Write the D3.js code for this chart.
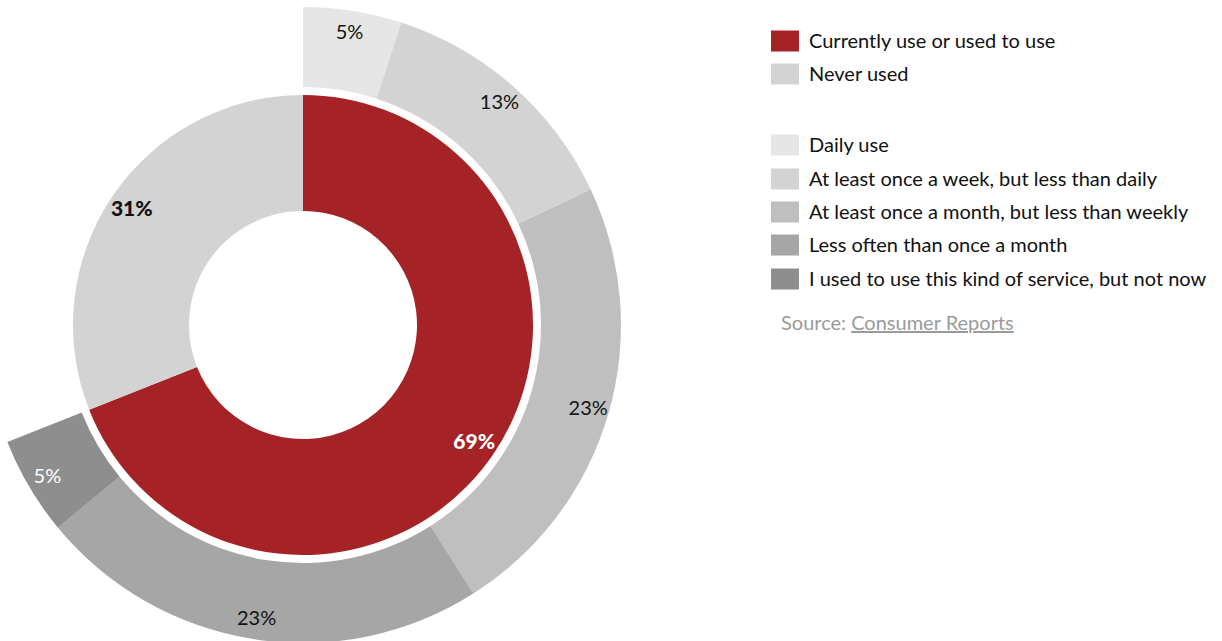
<!DOCTYPE html>
<html>
<head>
<meta charset="utf-8">
<script src="https://cdn.jsdelivr.net/npm/d3@7"></script>
<style>
  html, body { margin: 0; padding: 0; background: #fff; }
  svg { display: block; font-family: Lato, "Noto Sans", sans-serif; }
</style>
</head>
<body>
<svg id="chart" width="1222" height="641"></svg>
<script>
// Inner ring: usage overall
const innerLabels = ["Currently use or used to use", "Never used"];
const innerValues = [69, 31];
const innerColors = ["#a52326", "#d3d3d3"];

// Outer ring: breakdown of the "currently use or used to use" share
const outerLabels = [
  "Daily use",
  "At least once a week, but less than daily",
  "At least once a month, but less than weekly",
  "Less often than once a month",
  "I used to use this kind of service, but not now"
];
const outerValues = [5, 13, 23, 23, 5];
const outerColors = ["#e6e6e6", "#d3d3d3", "#bfbfbf", "#a6a6a6", "#8e8e8e"];
const outerTextColors = ["#111", "#111", "#111", "#111", "#fff"];

const sourceName = "Consumer Reports";

const svg = d3.select("#chart");
const cx = 303, cy = 325;
const g = svg.append("g").attr("transform", `translate(${cx},${cy})`);

const total = d3.sum(innerValues);
const angle = d3.scaleLinear().domain([0, total]).range([0, 2 * Math.PI]);

// inner ring
const innerPie = d3.pie().sort(null).value(d => d);
const innerArc = d3.arc().innerRadius(114).outerRadius(230);
const innerArcs = innerPie(innerValues);

g.selectAll("path.inner")
  .data(innerArcs)
  .join("path")
  .attr("class", "inner")
  .attr("d", innerArc)
  .attr("fill", (d, i) => innerColors[i]);

// outer ring spans only the highlighted share
const outerPie = d3.pie().sort(null).value(d => d)
  .startAngle(0).endAngle(angle(d3.sum(outerValues)));
const outerArc = d3.arc().innerRadius(238).outerRadius(318);
const outerArcs = outerPie(outerValues);

g.selectAll("path.outer")
  .data(outerArcs)
  .join("path")
  .attr("class", "outer")
  .attr("d", outerArc)
  .attr("fill", (d, i) => outerColors[i]);

// labels
const outerLabelArc = d3.arc().innerRadius(297).outerRadius(297);
g.selectAll("text.outer")
  .data(outerArcs)
  .join("text")
  .attr("class", "outer")
  .attr("transform", d => `translate(${outerLabelArc.centroid(d)})`)
  .attr("text-anchor", "middle")
  .attr("dy", "0.35em")
  .attr("font-size", 20)
  .attr("fill", (d, i) => outerTextColors[i])
  .text(d => d.data + "%");

const innerLabelArc = d3.arc().innerRadius(207).outerRadius(207);
g.selectAll("text.inner")
  .data(innerArcs)
  .join("text")
  .attr("class", "inner")
  .attr("transform", d => `translate(${innerLabelArc.centroid(d)})`)
  .attr("text-anchor", "middle")
  .attr("dy", "0.35em")
  .attr("font-size", 21)
  .attr("font-weight", 900)
  .attr("fill", (d, i) => i === 0 ? "#fff" : "#111")
  .text(d => d.data + "%");

// legend
const legend = svg.append("g").attr("transform", "translate(771,0)");
const legendItems = [
  ...innerLabels.map((t, i) => ({ t, c: innerColors[i] })),
  ...outerLabels.map((t, i) => ({ t, c: outerColors[i] }))
];
const rowY = [41, 74, 145, 179, 212, 245, 279];
legendItems.forEach((d, i) => d.y = rowY[i]);

const rows = legend.selectAll("g.row")
  .data(legendItems)
  .join("g")
  .attr("class", "row")
  .attr("transform", d => `translate(0,${d.y})`);

rows.append("rect")
  .attr("x", 0).attr("y", -10.5)
  .attr("width", 28).attr("height", 21)
  .attr("fill", d => d.c);

rows.append("text")
  .attr("x", 38)
  .attr("dy", "0.35em")
  .attr("font-size", 20)
  .attr("fill", "#111")
  .text(d => d.t);

const src = svg.append("text")
  .attr("x", 781).attr("y", 323)
  .attr("dy", "0.35em")
  .attr("font-size", 20)
  .attr("fill", "#9a9a9a");
src.append("tspan").text("Source: ");
src.append("tspan").attr("text-decoration", "underline").text(sourceName);
</script>
</body>
</html>
